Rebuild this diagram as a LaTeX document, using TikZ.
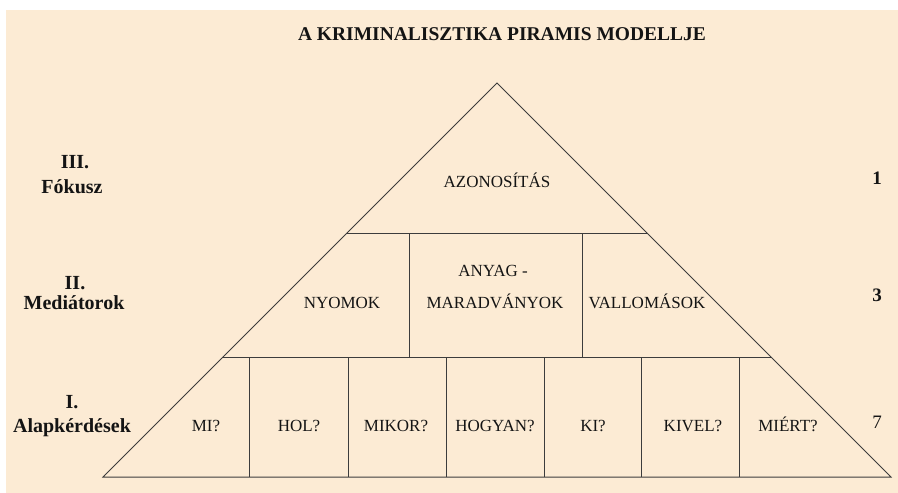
\documentclass[tikz,border=0pt]{standalone}
\usepackage{fontspec}
\setmainfont{LiberationSerif}[Extension=.ttf, UprightFont=*-Regular, BoldFont=*-Bold, ItalicFont=*-Italic, BoldItalicFont=*-BoldItalic]
\definecolor{bgbeige}{RGB}{252,235,212}
\definecolor{linegrey}{RGB}{60,60,60}
\definecolor{inkblack}{RGB}{20,20,20}
\tikzset{
  pyr/.style={draw=linegrey, line width=1bp},
  celltext/.style={inner sep=0pt, text=inkblack, text height=11.3bp, text depth=0pt,
    font=\fontsize{17bp}{20bp}\selectfont},
  sidelabel/.style={inner sep=0pt, text=inkblack, text height=13.2bp, text depth=0pt,
    font=\fontsize{20bp}{24bp}\selectfont\bfseries},
  titletext/.style={inner sep=0pt, text=inkblack, text height=12.6bp, text depth=0pt,
    font=\fontsize{19.5bp}{23bp}\selectfont\bfseries},
  numtext/.style={inner sep=0pt, text=inkblack, text height=12.6bp, text depth=0pt,
    font=\fontsize{19bp}{23bp}\selectfont},
  numbold/.style={numtext, font=\fontsize{19bp}{23bp}\selectfont\bfseries}
}
\begin{document}
\begin{tikzpicture}[x=1bp,y=-1bp]
\useasboundingbox (0,0) rectangle (898,493);
\fill[white] (0,0) rectangle (898,493);
\fill[bgbeige] (6,10) rectangle (898,493);

% pyramid vertices
\coordinate (apex) at (497,83);
\coordinate (l1l) at (346,234);
\coordinate (l1r) at (648,234);
\coordinate (l2l) at (223,357);
\coordinate (l2r) at (771,357);
\coordinate (bl) at (103,477);
\coordinate (br) at (891,477);

\draw[pyr, line join=miter] (bl) -- (apex) -- (br) -- cycle;
\draw[pyr] (l1l) -- (l1r);
\draw[pyr] (l2l) -- (l2r);
% middle row dividers
\foreach \x in {409,582} \draw[pyr] (\x,234) -- (\x,357);
% bottom row dividers
\foreach \x in {249,348,446,544,641,739} \draw[pyr] (\x,357) -- (\x,477);

% title
\node[titletext] (title) at (502,34) {A KRIMINALISZTIKA PIRAMIS MODELLJE};

% top
\node[celltext] (azon) at (497,182) {AZONOSÍTÁS};
% middle
\node[celltext] (nyom) at (342,303) {NYOMOK};
\node[celltext] (anyag) at (493,271) {ANYAG -};
\node[celltext] (marad) at (495,303) {MARADVÁNYOK};
\node[celltext] (vall) at (647,303) {VALLOMÁSOK};
% bottom
\node[celltext] (mi) at (206,426) {MI?};
\node[celltext] (hol) at (299,426) {HOL?};
\node[celltext] (mikor) at (396,426) {MIKOR?};
\node[celltext] (hogyan) at (495,426) {HOGYAN?};
\node[celltext] (ki) at (593,426) {KI?};
\node[celltext] (kivel) at (693,426) {KIVEL?};
\node[celltext] (miert) at (788,426) {MIÉRT?};

% numbers
\node[numbold] (n1) at (877,178) {1};
\node[numbold] (n3) at (877,295) {3};
\node[numtext] (n7) at (877,422) {7};

% side labels
\node[sidelabel] (r3) at (75,162) {III.};
\node[sidelabel] (fok) at (72,187) {Fókusz};
\node[sidelabel] (r2) at (75,283) {II.};
\node[sidelabel] (med) at (74,303) {Mediátorok};
\node[sidelabel] (r1) at (72,402) {I.};
\node[sidelabel] (alap) at (72,426) {Alapkérdések};
\end{tikzpicture}
\end{document}
